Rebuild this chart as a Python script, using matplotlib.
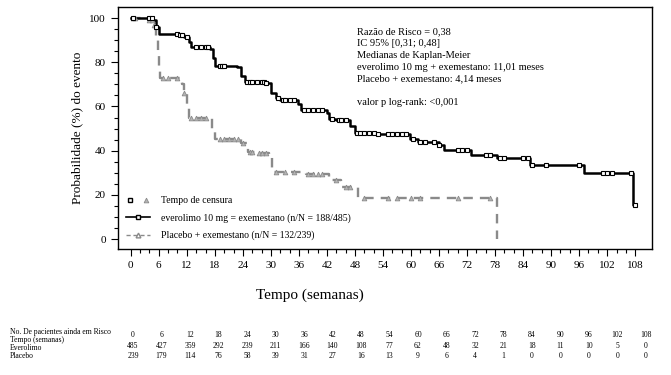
"""Kaplan-Meier: everolimo + exemestano vs placebo + exemestano."""

import numpy as np
import matplotlib
matplotlib.use('Agg')
import matplotlib.pyplot as plt
from matplotlib.lines import Line2D
from matplotlib.legend_handler import HandlerTuple

# curve data (weeks, % without event)
evero_t = [0, 4.8, 5.5, 6.0, 10.5, 11.5, 12.5, 13.0, 17.0, 17.5, 18.0, 22.7,
           23.5, 24.5, 29.0, 30.0, 31.0, 32.0, 35.8, 36.5, 42.0, 42.5, 44.0,
           47.0, 48.0, 53.0, 59.8, 61.6, 66.0, 67.0, 72.8, 78.5, 85.5, 97.0,
           107.6, 108.0]
evero_p = [100, 99, 96, 93, 92.5, 91.5, 89, 87, 86, 82, 78.5, 78, 74, 71.2,
           70.5, 66, 64, 63, 61, 58.5, 57, 54.5, 54, 51, 48, 47.5, 45.5, 44,
           42.5, 40.3, 38, 36.5, 33.5, 29.7, 15.4, 15.4]
plac_t = [0, 4, 5, 5.5, 5.8, 6.0, 6.3, 10.5, 11.0, 11.5, 12.0, 12.5, 17.3,
          18.0, 23.5, 25.0, 27.0, 29.5, 30.3, 37.5, 42.5, 45.0, 48.7, 78.4]
plac_p = [100, 99, 97, 90, 84, 78, 73, 72, 70, 66, 61, 55, 50, 45.5, 43.5,
          39.5, 39, 37.2, 30.5, 29.5, 26.5, 23.7, 18.4, 0]

# censoring times
evero_cens = [0.5, 4, 4.5, 5.5, 10, 10.5, 11, 12, 14, 15, 16, 16.5, 19, 19.5,
              20, 24.8, 25.5, 26, 27, 28, 28.5, 29, 31.5, 32.5, 33, 34, 35,
              37, 38, 39, 40, 41, 43, 44.5, 45, 46, 48.5, 49, 50, 51, 52, 53,
              55, 56, 57, 58, 59, 60.5, 62, 63, 65, 66, 70, 71, 72, 76, 77,
              79, 80, 84, 85, 86, 89, 96, 101, 102, 103, 107, 108]
plac_cens = [0.5, 1, 4, 4.5, 5, 7, 8, 10, 11.5, 13, 14, 15, 16, 19, 20, 21,
             22, 23, 24, 25.5, 26, 27.5, 28, 29, 31, 33, 35, 38, 39, 40, 41,
             44, 46, 47, 50, 55, 57, 60, 62, 70, 77]

# numbers at risk
risk_t = [0, 6, 12, 18, 24, 30, 36, 42, 48, 54, 60, 66, 72, 78, 84, 90, 96,
          102, 108]
risk_evero = [485, 427, 359, 292, 239, 211, 166, 140, 108, 77, 62, 48, 32,
              21, 18, 11, 10, 5, 0]
risk_plac = [239, 179, 114, 76, 58, 39, 31, 27, 16, 13, 9, 6, 4, 1, 0, 0, 0,
             0, 0]

stats_lines = ['Razão de Risco = 0,38', 'IC 95% [0,31; 0,48]',
               'Medianas de Kaplan-Meier',
               'everolimo 10 mg + exemestano: 11,01 meses',
               'Placebo + exemestano: 4,14 meses', '',
               'valor p log-rank: <0,001']

plt.rcParams['font.family'] = 'Liberation Serif'
plt.rcParams['font.size'] = 8

GREY = '#8a8a8a'
TRI_FILL = '#b4b4b4'


def step_value(ts, ps, x):
    i = np.searchsorted(ts, x, side='right') - 1
    return np.asarray(ps)[i]


fig = plt.figure(figsize=(6.71, 3.75), dpi=100)
ax = fig.add_axes([0.1754, 0.336, 0.7963, 0.6453])

ax.step(plac_t, plac_p, where='post', color=GREY, lw=1.7, ls=(0, (4, 3)))
ax.step(evero_t, evero_p, where='post', color='black', lw=1.8)
ax.plot(plac_cens, step_value(plac_t, plac_p, plac_cens), ls='none',
        marker='^', ms=3.4, mfc=TRI_FILL, mec=GREY, mew=0.6)
ax.plot(evero_cens, step_value(evero_t, evero_p, evero_cens), ls='none',
        marker='s', ms=3.3, mfc='white', mec='black', mew=0.8)

ax.set_xlim(-2.8, 111.6)
ax.set_ylim(-4.5, 105)
ax.set_xticks(risk_t)
ax.set_xticks(np.arange(0, 109, 2), minor=True)
ax.set_yticks([0, 20, 40, 60, 80, 100])
ax.set_yticks(np.arange(0, 101, 5), minor=True)
ax.tick_params(which='major', direction='out', length=5, width=0.8)
ax.tick_params(which='minor', direction='out', length=3, width=0.8)
for s in ax.spines.values():
    s.set_linewidth(1.0)

ax.set_ylabel('Probabilidade (%) do evento', fontsize=9.5, labelpad=4)

# statistics block
for i, line in enumerate(stats_lines):
    fig.text(357 / 671, 1 - (32 + 11.8 * i) / 375, line, fontsize=7.5,
             va='center', ha='left')

# legend
h_cens = (Line2D([], [], ls='none', marker='s', ms=3.3, mfc='white',
                 mec='black'),
          Line2D([], [], ls='none', marker='^', ms=3.4, mfc=TRI_FILL,
                 mec=GREY, mew=0.6))
h_ev = Line2D([], [], color='black', lw=1.2, marker='s', ms=3.3, mfc='white')
h_pl = Line2D([], [], color=GREY, lw=1.0, ls=(0, (3, 2)), marker='^', ms=3.4,
              mfc='white', mec=GREY)
ax.legend([h_cens, h_ev, h_pl],
          ['Tempo de censura',
           'everolimo 10 mg = exemestano (n/N = 188/485)',
           'Placebo + exemestano (n/N = 132/239)'],
          handler_map={tuple: HandlerTuple(ndivide=None, pad=0.8)},
          loc='lower left', bbox_to_anchor=(0.0, 0.0), frameon=False,
          fontsize=7, handlelength=2.4, labelspacing=0.8, handletextpad=1.2)

fig.text(310 / 671, 1 - 295 / 375, 'Tempo (semanas)', fontsize=11,
         ha='center', va='center')

# numbers at risk table
col_x = np.linspace(133, 646, len(risk_t)) / 671
row_lbl = [('No. De pacientes ainda em Risco', 332),
           ('Tempo (semanas)', 339.5), ('Everolimo', 347.5),
           ('Placebo', 356.5)]
for txt, yy in row_lbl:
    fig.text(10 / 671, 1 - yy / 375, txt, fontsize=5.5, va='center')
for x, a, b, c in zip(col_x, risk_t, risk_evero, risk_plac):
    fig.text(x, 1 - 335 / 375, str(a), fontsize=5.5, ha='center',
             va='center')
    fig.text(x, 1 - 345.5 / 375, str(b), fontsize=5.5, ha='center',
             va='center')
    fig.text(x, 1 - 356.5 / 375, str(c), fontsize=5.5, ha='center',
             va='center')

fig.savefig('out.png', dpi=100)
